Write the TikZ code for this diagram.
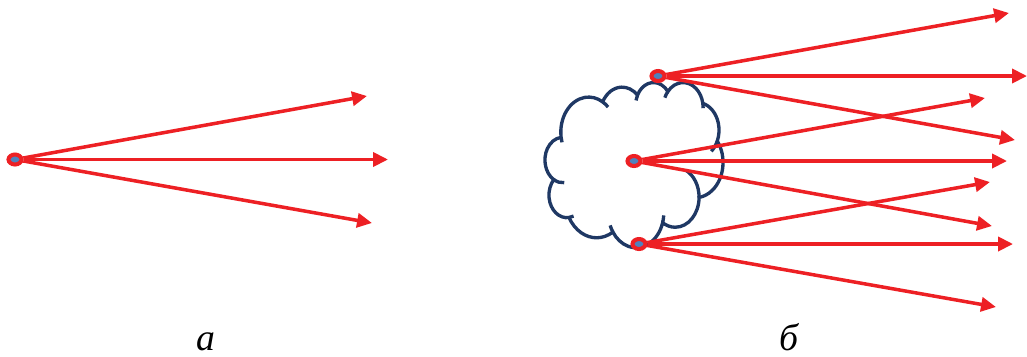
\documentclass[tikz,border=0pt]{standalone}
\usepackage{fontspec}
\setmainfont{Liberation Serif}
\usetikzlibrary{arrows.meta,shapes.geometric}
\definecolor{arrred}{RGB}{237,32,36}
\definecolor{ptblue}{RGB}{79,129,189}
\definecolor{cloudnavy}{RGB}{31,56,100}
\begin{document}
\begin{tikzpicture}[x=0.02cm,y=-0.02cm,
  cloudline/.style={draw=cloudnavy,line width=1.9pt},
  rayarrow/.style={draw=arrred,line width=2pt,-{Triangle[length=8.5pt,width=8pt]}},
  src/.style={ellipse,draw=arrred,fill=ptblue,line width=2.3pt,minimum width=0.26cm,minimum height=0.2cm,inner sep=0pt},
  lab/.style={font=\fontsize{21.5}{26}\selectfont\itshape,anchor=base,inner sep=0pt}]
\useasboundingbox (0,0) rectangle (1027,356);

% cloud
\begin{scope}[shift={(545,82)},x=0.0082407cm,y=-0.0076389cm]
\coordinate (c0) at (39.00,143.70);
\draw[cloudline] (c0)
 arc[start angle=172.25, end angle=300.36, x radius=67.53, y radius=91.90] coordinate (c1)
 arc[start angle=-152.05, end angle=-45.42, x radius=53.33, y radius=72.67] coordinate (c2)
 arc[start angle=-153.48, end angle=-37.32, x radius=43.65, y radius=59.45] coordinate (c3)
 arc[start angle=-139.71, end angle=-10.21, x radius=48.57, y radius=65.95] coordinate (c4)
 arc[start angle=-74.77, end angle=23.21, x radius=53.33, y radius=72.73] coordinate (c5)
 arc[start angle=-37.52, end angle=81.86, x radius=67.75, y radius=92.20] coordinate (c6)
 arc[start angle=0.46, end angle=121.97, x radius=57.85, y radius=78.67] coordinate (c7)
 arc[start angle=16.84, end angle=146.21, x radius=67.52, y radius=92.15] coordinate (c8)
 arc[start angle=59.12, end angle=150.17, x radius=77.20, y radius=105.43] coordinate (c9)
 arc[start angle=83.31, end angle=223.11, x radius=43.60, y radius=59.18] coordinate (c10)
 arc[start angle=120.35, end angle=264.11, x radius=43.45, y radius=59.45] -- cycle;
% inner hooks
\draw[cloudline] (c10) arc[start angle=120.35, end angle=85.55, x radius=43.45, y radius=59.45];
\draw[cloudline] (c9) arc[start angle=83.31, end angle=68.23, x radius=43.60, y radius=59.18];
\draw[cloudline] (c8) arc[start angle=146.21, end angle=158.47, x radius=67.52, y radius=92.15];
\draw[cloudline] (c7) arc[start angle=16.84, end angle=4.74, x radius=67.52, y radius=92.15];
\draw[cloudline] (c6) arc[start angle=0.46, end angle=-64.03, x radius=57.85, y radius=78.67];
\draw[cloudline] (c5) arc[start angle=23.21, end angle=49.65, x radius=53.33, y radius=72.73];
\draw[cloudline] (c4) arc[start angle=-10.21, end angle=0.82, x radius=48.57, y radius=65.95];
\draw[cloudline] (c3) arc[start angle=-139.71, end angle=-156.27, x radius=48.57, y radius=65.95];
\draw[cloudline] (c2) arc[start angle=-153.48, end angle=-167.73, x radius=43.65, y radius=59.45];
\draw[cloudline] (c1) arc[start angle=-59.64, end angle=-45.73, x radius=67.53, y radius=91.90];
\draw[cloudline] (c0) arc[start angle=172.25, end angle=163.20, x radius=67.53, y radius=91.90];
\end{scope}

% sources
\node[src] (s0) at (15,159.5) {};
\node[src] (sA) at (658,76) {};
\node[src] (sB) at (634,161) {};
\node[src] (sC) at (639,244) {};

% arrow ends
\coordinate (a1) at (367,96);
\coordinate (a2) at (388,159.5);
\coordinate (a3) at (372,223);
\coordinate (A1) at (1009,13);
\coordinate (A2) at (1027,76);
\coordinate (A3) at (1015,140);
\coordinate (B1) at (985,98);
\coordinate (B2) at (1007,161);
\coordinate (B3) at (992,226);
\coordinate (C1) at (990,182);
\coordinate (C2) at (1013,244);
\coordinate (C3) at (996,307);

\draw[rayarrow] (s0) -- (a1);
\draw[rayarrow] (s0) -- (a2);
\draw[rayarrow] (s0) -- (a3);
\draw[rayarrow] (sA) -- (A1);
\draw[rayarrow] (sA) -- (A2);
\draw[rayarrow] (sA) -- (A3);
\draw[rayarrow] (sB) -- (B1);
\draw[rayarrow] (sB) -- (B2);
\draw[rayarrow] (sB) -- (B3);
\draw[rayarrow] (sC) -- (C1);
\draw[rayarrow] (sC) -- (C2);
\draw[rayarrow] (sC) -- (C3);

% labels
\node[lab] (la) at (206,350.5) {а};
\node[lab] (lb) at (789,350.5) {б};
\end{tikzpicture}
\end{document}
